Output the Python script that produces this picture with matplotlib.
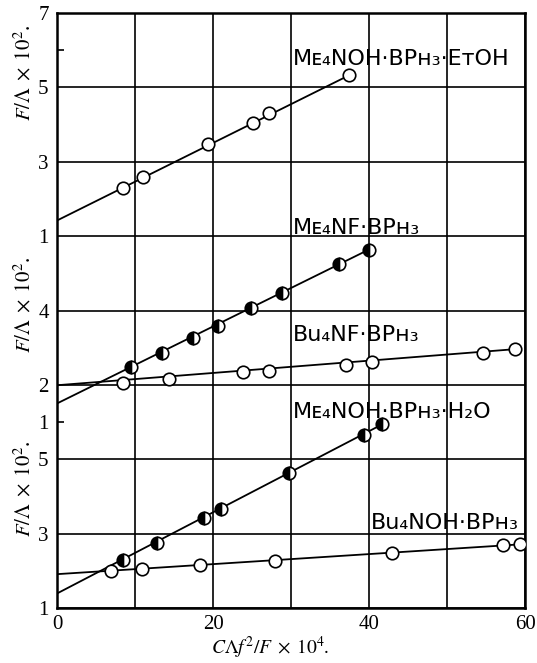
import numpy as np
import matplotlib.pyplot as plt

plt.rcParams['mathtext.fontset'] = 'stix'
plt.rcParams['font.family'] = ['Liberation Serif', 'DejaVu Serif']

# %% data (x = C Lambda f^2 / F x 10^4, y = F/Lambda x 10^2)
# top panel: Me4NOH.BPH3.EtOH
etoh_x = [8.4, 11.0, 19.4, 25.1, 27.2, 37.4]
etoh_y = [2.30, 2.59, 3.47, 4.05, 4.30, 5.32]
etoh_fit_x = [0, 37.4]
etoh_fit_y = [1.42, 5.32]

# middle panel: Me4NF.BPH3 (half filled) and Bu4NF.BPH3 (open)
me4nf_x = [9.5, 13.4, 17.4, 20.7, 24.9, 28.8, 36.1, 40.0]
me4nf_y = [2.49, 2.85, 3.26, 3.59, 4.06, 4.46, 5.24, 5.64]
me4nf_fit_x = [0, 40.0]
me4nf_fit_y = [1.50, 5.64]

bu4nf_x = [8.4, 14.4, 23.9, 27.2, 37.0, 40.4, 54.6, 58.7]
bu4nf_y = [2.04, 2.15, 2.35, 2.38, 2.54, 2.62, 2.85, 2.96]
bu4nf_fit_x = [0, 58.7]
bu4nf_fit_y = [1.99, 2.96]

# bottom panel: Me4NOH.BPH3.H2O (half filled) and Bu4NOH.BPH3 (open)
h2o_x = [8.4, 12.8, 18.9, 21.0, 29.8, 39.4, 41.7]
h2o_y = [2.28, 2.75, 3.41, 3.66, 4.64, 5.66, 5.94]
h2o_fit_x = [0, 41.7]
h2o_fit_y = [1.39, 5.94]

bu4noh_x = [6.9, 10.9, 18.3, 27.9, 43.0, 57.2, 59.3]
bu4noh_y = [1.99, 2.04, 2.15, 2.26, 2.47, 2.69, 2.71]
bu4noh_fit_x = [0, 59.3]
bu4noh_fit_y = [1.91, 2.71]

# %% figure: one frame, three overlapping y scales
fig = plt.figure(figsize=(5.37, 6.63), dpi=100)
rect = [57/537, 55/663, 468/537, 595/663]

ax = fig.add_axes(rect)          # top scale, also carries grid and frame
ax.set_xlim(0, 60)
ax.set_ylim(-9, 7)
ax_mid = fig.add_axes(rect, sharex=ax)
ax_mid.set_ylim(-4, 12)
ax_bot = fig.add_axes(rect, sharex=ax)
ax_bot.set_ylim(1, 17)

for a in [ax_mid, ax_bot]:
    a.patch.set_visible(False)
    for s in a.spines.values():
        s.set_visible(False)
    a.tick_params(axis='x', bottom=False, labelbottom=False)

for s in ax.spines.values():
    s.set_linewidth(1.8)

# grid
ax.set_xticks([0, 10, 20, 30, 40, 50, 60], ['0', '', '20', '', '40', '', '60'])
ax.set_yticks(np.arange(-9, 8, 2),
              ['', '', '', '', '', '1', '3', '5', '7'])
ax.grid(True, color='black', linewidth=1.2)
ax.tick_params(which='major', length=0, labelsize=15, pad=6)
ax.tick_params(axis='x', pad=5)
ax.set_yticks([6], minor=True)
ax.tick_params(which='minor', direction='in', length=5, width=1.2)

ax_mid.set_yticks([2, 4], ['2', '4'])
ax_mid.set_yticks([1], ['1'], minor=True)
ax_mid.tick_params(which='major', length=0, labelsize=15, pad=6)
ax_mid.tick_params(which='minor', direction='in', length=5, width=1.2,
                   labelsize=15, pad=6)

ax_bot.set_yticks([1, 3, 5], ['1', '3', '5'])
ax_bot.tick_params(which='major', length=0, labelsize=15, pad=6)

# %% data
open_style = dict(marker='o', markersize=9, markerfacecolor='white',
                  markeredgecolor='black', markeredgewidth=1.2, linestyle='none')
half_style = dict(marker='o', markersize=9, fillstyle='left',
                  markerfacecolor='black', markerfacecoloralt='white',
                  markeredgecolor='black', markeredgewidth=1.2, linestyle='none')

ax.plot(etoh_fit_x, etoh_fit_y, color='black', lw=1.3)
ax.plot(etoh_x, etoh_y, **open_style)

ax_mid.plot(me4nf_fit_x, me4nf_fit_y, color='black', lw=1.3)
ax_mid.plot(me4nf_x, me4nf_y, **half_style)
ax_mid.plot(bu4nf_fit_x, bu4nf_fit_y, color='black', lw=1.3)
ax_mid.plot(bu4nf_x, bu4nf_y, **open_style)

ax_bot.plot(h2o_fit_x, h2o_fit_y, color='black', lw=1.3)
ax_bot.plot(h2o_x, h2o_y, **half_style)
ax_bot.plot(bu4noh_fit_x, bu4noh_fit_y, color='black', lw=1.3)
ax_bot.plot(bu4noh_x, bu4noh_y, **open_style)

# %% labels
lab = dict(family='DejaVu Sans', fontsize=16, va='baseline', ha='left')
ax.text(30.3, 5.60, 'Mᴇ₄NOH·BPʜ₃·EᴛOH', **lab)
ax_mid.text(30.3, 6.05, 'Mᴇ₄NF·BPʜ₃', **lab)
ax_mid.text(30.3, 3.18, 'Bu₄NF·BPʜ₃', **lab)
ax_bot.text(30.3, 6.10, 'Mᴇ₄NOH·BPʜ₃·H₂O', **lab)
ax_bot.text(40.2, 3.12, 'Bu₄NOH·BPʜ₃', **lab)

ylab = r'$F/\Lambda\;\times\;10^2$.'
fig.text(25/537, 1 - 73/663, ylab, rotation=90, fontsize=15, ha='center', va='center')
fig.text(25/537, 1 - 305/663, ylab, rotation=90, fontsize=15, ha='center', va='center')
fig.text(25/537, 1 - 489/663, ylab, rotation=90, fontsize=15, ha='center', va='center')

fig.text(270/537, 1 - 648/663, r'$C\Lambda f^2/F\;\times\;10^4$.', fontsize=14,
         ha='center', va='center')

plt.savefig('out.png', dpi=100)
